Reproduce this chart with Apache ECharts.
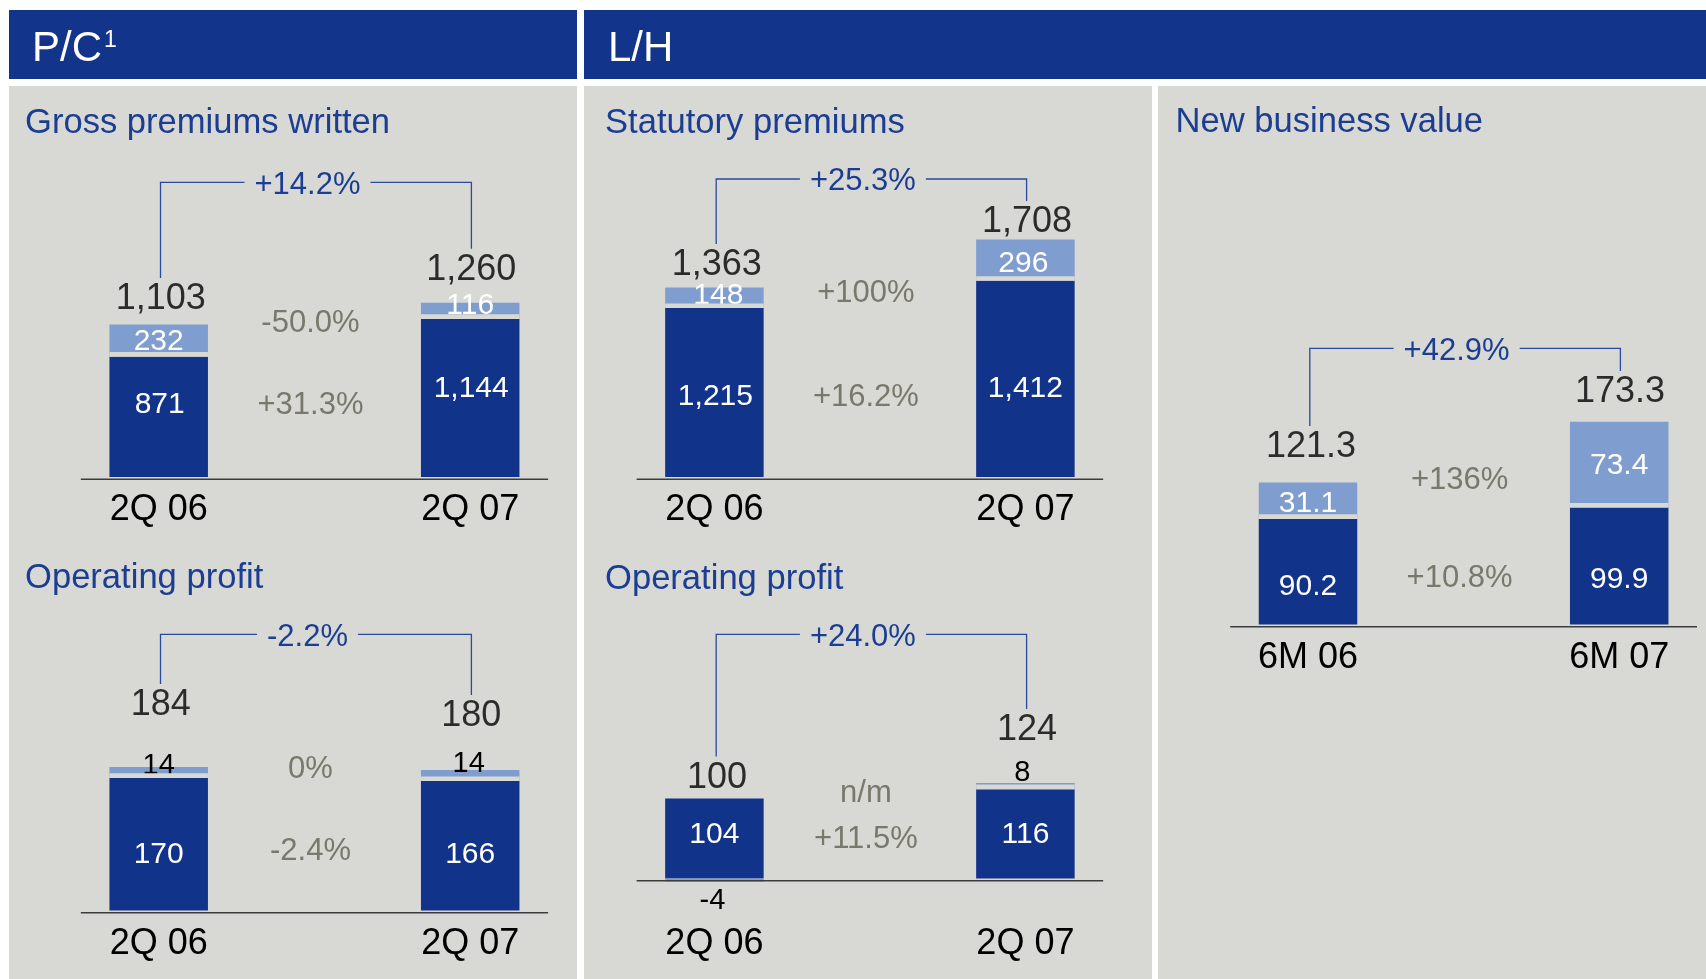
<!DOCTYPE html>
<html><head><meta charset="utf-8">
<script src="https://cdn.jsdelivr.net/npm/echarts@6/dist/echarts.min.js"></script>
<style>html,body{margin:0;padding:0;background:#fff}#c{width:1706px;height:979px}</style>
</head><body><div id="c"></div>
<script>
// ---------------- data ----------------
const quarterCategories = ['2Q 06', '2Q 07'];
const halfYearCategories = ['6M 06', '6M 07'];

const gpwCore = [871, 1144];
const gpwOther = [232, 116];
const gpwTotal = [1103, 1260];
const gpwGrowth = ['+14.2%', '-50.0%', '+31.3%'];

const pcOpCore = [170, 166];
const pcOpOther = [14, 14];
const pcOpTotal = [184, 180];
const pcOpGrowth = ['-2.2%', '0%', '-2.4%'];

const statCore = [1215, 1412];
const statOther = [148, 296];
const statTotal = [1363, 1708];
const statGrowth = ['+25.3%', '+100%', '+16.2%'];

const lhOpCore = [104, 116];
const lhOpOther = [-4, 8];
const lhOpTotal = [100, 124];
const lhOpGrowth = ['+24.0%', 'n/m', '+11.5%'];

const nbvCore = [90.2, 99.9];
const nbvOther = [31.1, 73.4];
const nbvTotal = [121.3, 173.3];
const nbvGrowth = ['+42.9%', '+136%', '+10.8%'];

const headerTexts = ['P/C', 'L/H'];
const headerNote = '1';
const panelTitles = ['Gross premiums written', 'Operating profit', 'Statutory premiums', 'Operating profit', 'New business value'];

// ---------------- style / layout ----------------
const C = { header: '#12348A', dark: '#12338A', light: '#7F9DCE', panel: '#D8D8D4', title: '#1B3D92',
            gray: '#78786C', line: '#2A4A9C', black: '#000000', base: '#3C3C3C' };
const FONT = '"Liberation Sans", Arial, Helvetica, sans-serif';
const BW = 98.5, GAP = 4.6;
const sh = fs => 0.09 * fs; // vertical correction: cap centre vs text box centre

const charts = [
  { cats: quarterCategories, core: gpwCore, other: gpwOther, total: gpwTotal, growth: gpwGrowth, title: panelTitles[0],
    c0: 158.7, d: 311.5, y0: 477, k: 0.1382, ymin: 0, ymax: 2000, axisMargin: 11.5, bracketY: 182.3,
    growthY: [320.5, 403], titleXY: [25, 120], otherDark: false,
    otherOff: [[0, -2], [0, -8]], coreOff: [[1, -15], [1, -12]], totalOff: [[2, -28.6], [1, -36]] },
  { cats: quarterCategories, core: pcOpCore, other: pcOpOther, total: pcOpTotal, growth: pcOpGrowth, title: panelTitles[1],
    c0: 158.7, d: 311.5, y0: 910.5, k: 0.78, ymin: 0, ymax: 250, axisMargin: 12.5, bracketY: 634.3,
    growthY: [766.7, 849], titleXY: [25, 575], otherDark: true,
    otherOff: [[0, -9.4], [-1.5, -14]], coreOff: [[0, 8], [0, 6]], totalOff: [[2, -65], [1, -57]] },
  { cats: quarterCategories, core: statCore, other: statOther, total: statTotal, growth: statGrowth, title: panelTitles[2],
    c0: 714.4, d: 311, y0: 477, k: 0.139, ymin: 0, ymax: 2000, axisMargin: 11.5, bracketY: 179,
    growthY: [291, 395], titleXY: [605, 120], otherDark: false,
    otherOff: [[4, -5], [-2, 1]], coreOff: [[1, 1.5], [0, 7]], totalOff: [[2.4, -25.5], [1.6, -20.6]] },
  { cats: quarterCategories, core: lhOpCore, other: lhOpOther, total: lhOpTotal, growth: lhOpGrowth, title: panelTitles[3],
    c0: 714.4, d: 311, y0: 878.5, k: 0.77, ymin: -20, ymax: 200, axisMargin: 29, bracketY: 634.3,
    growthY: [791, 836.5], titleXY: [605, 576], otherDark: true,
    otherOff: [[-2, 18], [-3, -16]], coreOff: [[0, -6.5], [0, -2]], totalOff: [[2.6, -27], [1.6, -56]] },
  { cats: halfYearCategories, core: nbvCore, other: nbvOther, total: nbvTotal, growth: nbvGrowth, title: panelTitles[4],
    c0: 1308, d: 311.2, y0: 624.5, k: 1.17, ymin: 0, ymax: 200, axisMargin: 12.5, bracketY: 348.3,
    growthY: [477.5, 576], titleXY: [1175.5, 119], otherDark: false,
    otherOff: [[0, 0], [0, -2]], coreOff: [[0, 12], [0, 11]], totalOff: [[3, -38.6], [0.8, -32.7]] }
];

const fmt = v => Number.isInteger(v) ? v.toLocaleString('en-US') : v.toFixed(1);
const shiftOff = (o, fs) => [o[0], o[1] + sh(fs)];

const chart = echarts.init(document.getElementById('c'), null, { renderer: 'canvas' });

const option = { backgroundColor: '#ffffff', animation: false, grid: [], xAxis: [], yAxis: [], series: [] };

charts.forEach((c, i) => {
  const otherFs = c.otherDark ? 29 : 30;
  option.grid.push({ left: c.c0 - c.d / 2, width: 2 * c.d, top: c.y0 - c.ymax * c.k,
                     height: (c.ymax - c.ymin) * c.k, containLabel: false, outerBoundsMode: 'none' });
  option.xAxis.push({ type: 'category', gridIndex: i, data: c.cats,
                      axisLine: { show: false, onZero: false }, axisTick: { show: false }, splitLine: { show: false },
                      axisLabel: { interval: 0, margin: c.axisMargin + sh(36), fontSize: 36, color: C.black, fontFamily: FONT } });
  option.yAxis.push({ type: 'value', gridIndex: i, min: c.ymin, max: c.ymax, show: false });

  option.series.push({
    type: 'bar', name: 'core' + i, xAxisIndex: i, yAxisIndex: i, stack: 's' + i, barWidth: BW, silent: true, z: 2,
    itemStyle: { color: C.dark },
    label: { show: true, position: 'inside', color: '#fff', fontSize: 30, fontFamily: FONT, formatter: p => fmt(p.value) },
    data: c.core.map((v, j) => ({ value: v, label: { offset: shiftOff(c.coreOff[j], 30) } }))
  });
  option.series.push({
    type: 'bar', name: 'other' + i, xAxisIndex: i, yAxisIndex: i, stack: 's' + i, barWidth: BW, silent: true, z: 2,
    itemStyle: { color: C.light },
    label: { show: true, position: 'inside', color: c.otherDark ? C.black : '#fff', fontSize: otherFs,
             fontFamily: FONT, formatter: p => fmt(p.value) },
    data: c.other.map((v, j) => ({ value: v, label: { offset: shiftOff(c.otherOff[j], otherFs) } }))
  });
  // thin separator between the two stacked segments
  option.series.push({
    type: 'custom', xAxisIndex: i, yAxisIndex: i, silent: true, z: 3,
    data: c.core.map((v, j) => [j, v, c.other[j]]),
    renderItem: (params, api) => {
      if (api.value(2) <= 0) return null;
      const pt = api.coord([api.value(0), api.value(1)]);
      return { type: 'rect', shape: { x: pt[0] - BW / 2, y: pt[1] - GAP, width: BW, height: GAP },
               style: { fill: C.panel } };
    }
  });
  option.series.push({
    type: 'scatter', xAxisIndex: i, yAxisIndex: i, silent: true, z: 4, symbolSize: 1,
    itemStyle: { color: 'rgba(0,0,0,0)' },
    label: { show: true, position: 'inside', color: C.black, fontSize: 36, fontFamily: FONT, formatter: p => fmt(p.value) },
    data: c.total.map((v, j) => ({ value: v, label: { offset: shiftOff(c.totalOff[j], 36) } }))
  });
});

chart.setOption(option);

// ---------------- decorations ----------------
const g = [];
const rect = (x, y, w, h, fill, z) => g.push({ type: 'rect', z: z, silent: true, shape: { x, y, width: w, height: h }, style: { fill } });
const text = (x, y, t, o) => g.push({ type: 'text', z: o.z || 20, silent: true, x, y: y + sh(o.style.fontSize),
  style: Object.assign({ text: t, fontFamily: FONT, align: 'left', verticalAlign: 'middle' }, o.style) });

rect(9, 10, 568, 69, C.header, 0);
rect(584, 10, 1122, 69, C.header, 0);
rect(9, 86, 568, 893, C.panel, 0);
rect(584, 86, 568, 893, C.panel, 0);
rect(1158, 86, 548, 893, C.panel, 0);

text(32, 45.8, headerTexts[0], { style: { fill: '#fff', fontSize: 42 } });
text(104, 38.5, headerNote, { style: { fill: '#fff', fontSize: 23 } });
text(608, 45.8, headerTexts[1], { style: { fill: '#fff', fontSize: 42 } });

charts.forEach((c, i) => {
  text(c.titleXY[0], c.titleXY[1], c.title, { style: { fill: C.title, fontSize: 34.6 } });

  const p0 = chart.convertToPixel({ gridIndex: i }, [0, 0]);
  const p1 = chart.convertToPixel({ gridIndex: i }, [1, 0]);
  const dd = p1[0] - p0[0];
  const mid = (p0[0] + p1[0]) / 2;

  // baseline
  g.push({ type: 'line', z: 15, silent: true,
           shape: { x1: p0[0] - dd * 0.25, y1: p0[1] + 2.3, x2: p1[0] + dd * 0.25, y2: p0[1] + 2.3 },
           style: { stroke: C.base, lineWidth: 1.6 } });

  // bracket
  const tl = chart.convertToPixel({ gridIndex: i }, [0, c.total[0]])[1] + c.totalOff[0][1] - 18;
  const tr = chart.convertToPixel({ gridIndex: i }, [1, c.total[1]])[1] + c.totalOff[1][1] - 18;
  const xl = p0[0] + 1.8, xr = p1[0] + 1.2;
  g.push({ type: 'polyline', z: 15, silent: true,
           shape: { points: [[xl, tl], [xl, c.bracketY], [xr, c.bracketY], [xr, tr]] },
           style: { stroke: C.line, lineWidth: 1.3, fill: null } });
  text(mid - 7, c.bracketY, c.growth[0], { z: 16, style: { fill: C.title, fontSize: 31, align: 'center',
       backgroundColor: C.panel, padding: [0, 10] } });

  // segment growth rates
  text(mid - 4, c.growthY[0], c.growth[1], { style: { fill: C.gray, fontSize: 31, align: 'center' } });
  text(mid - 4, c.growthY[1], c.growth[2], { style: { fill: C.gray, fontSize: 31, align: 'center' } });
});

chart.setOption({ graphic: { elements: g } });
</script>
</body></html>
